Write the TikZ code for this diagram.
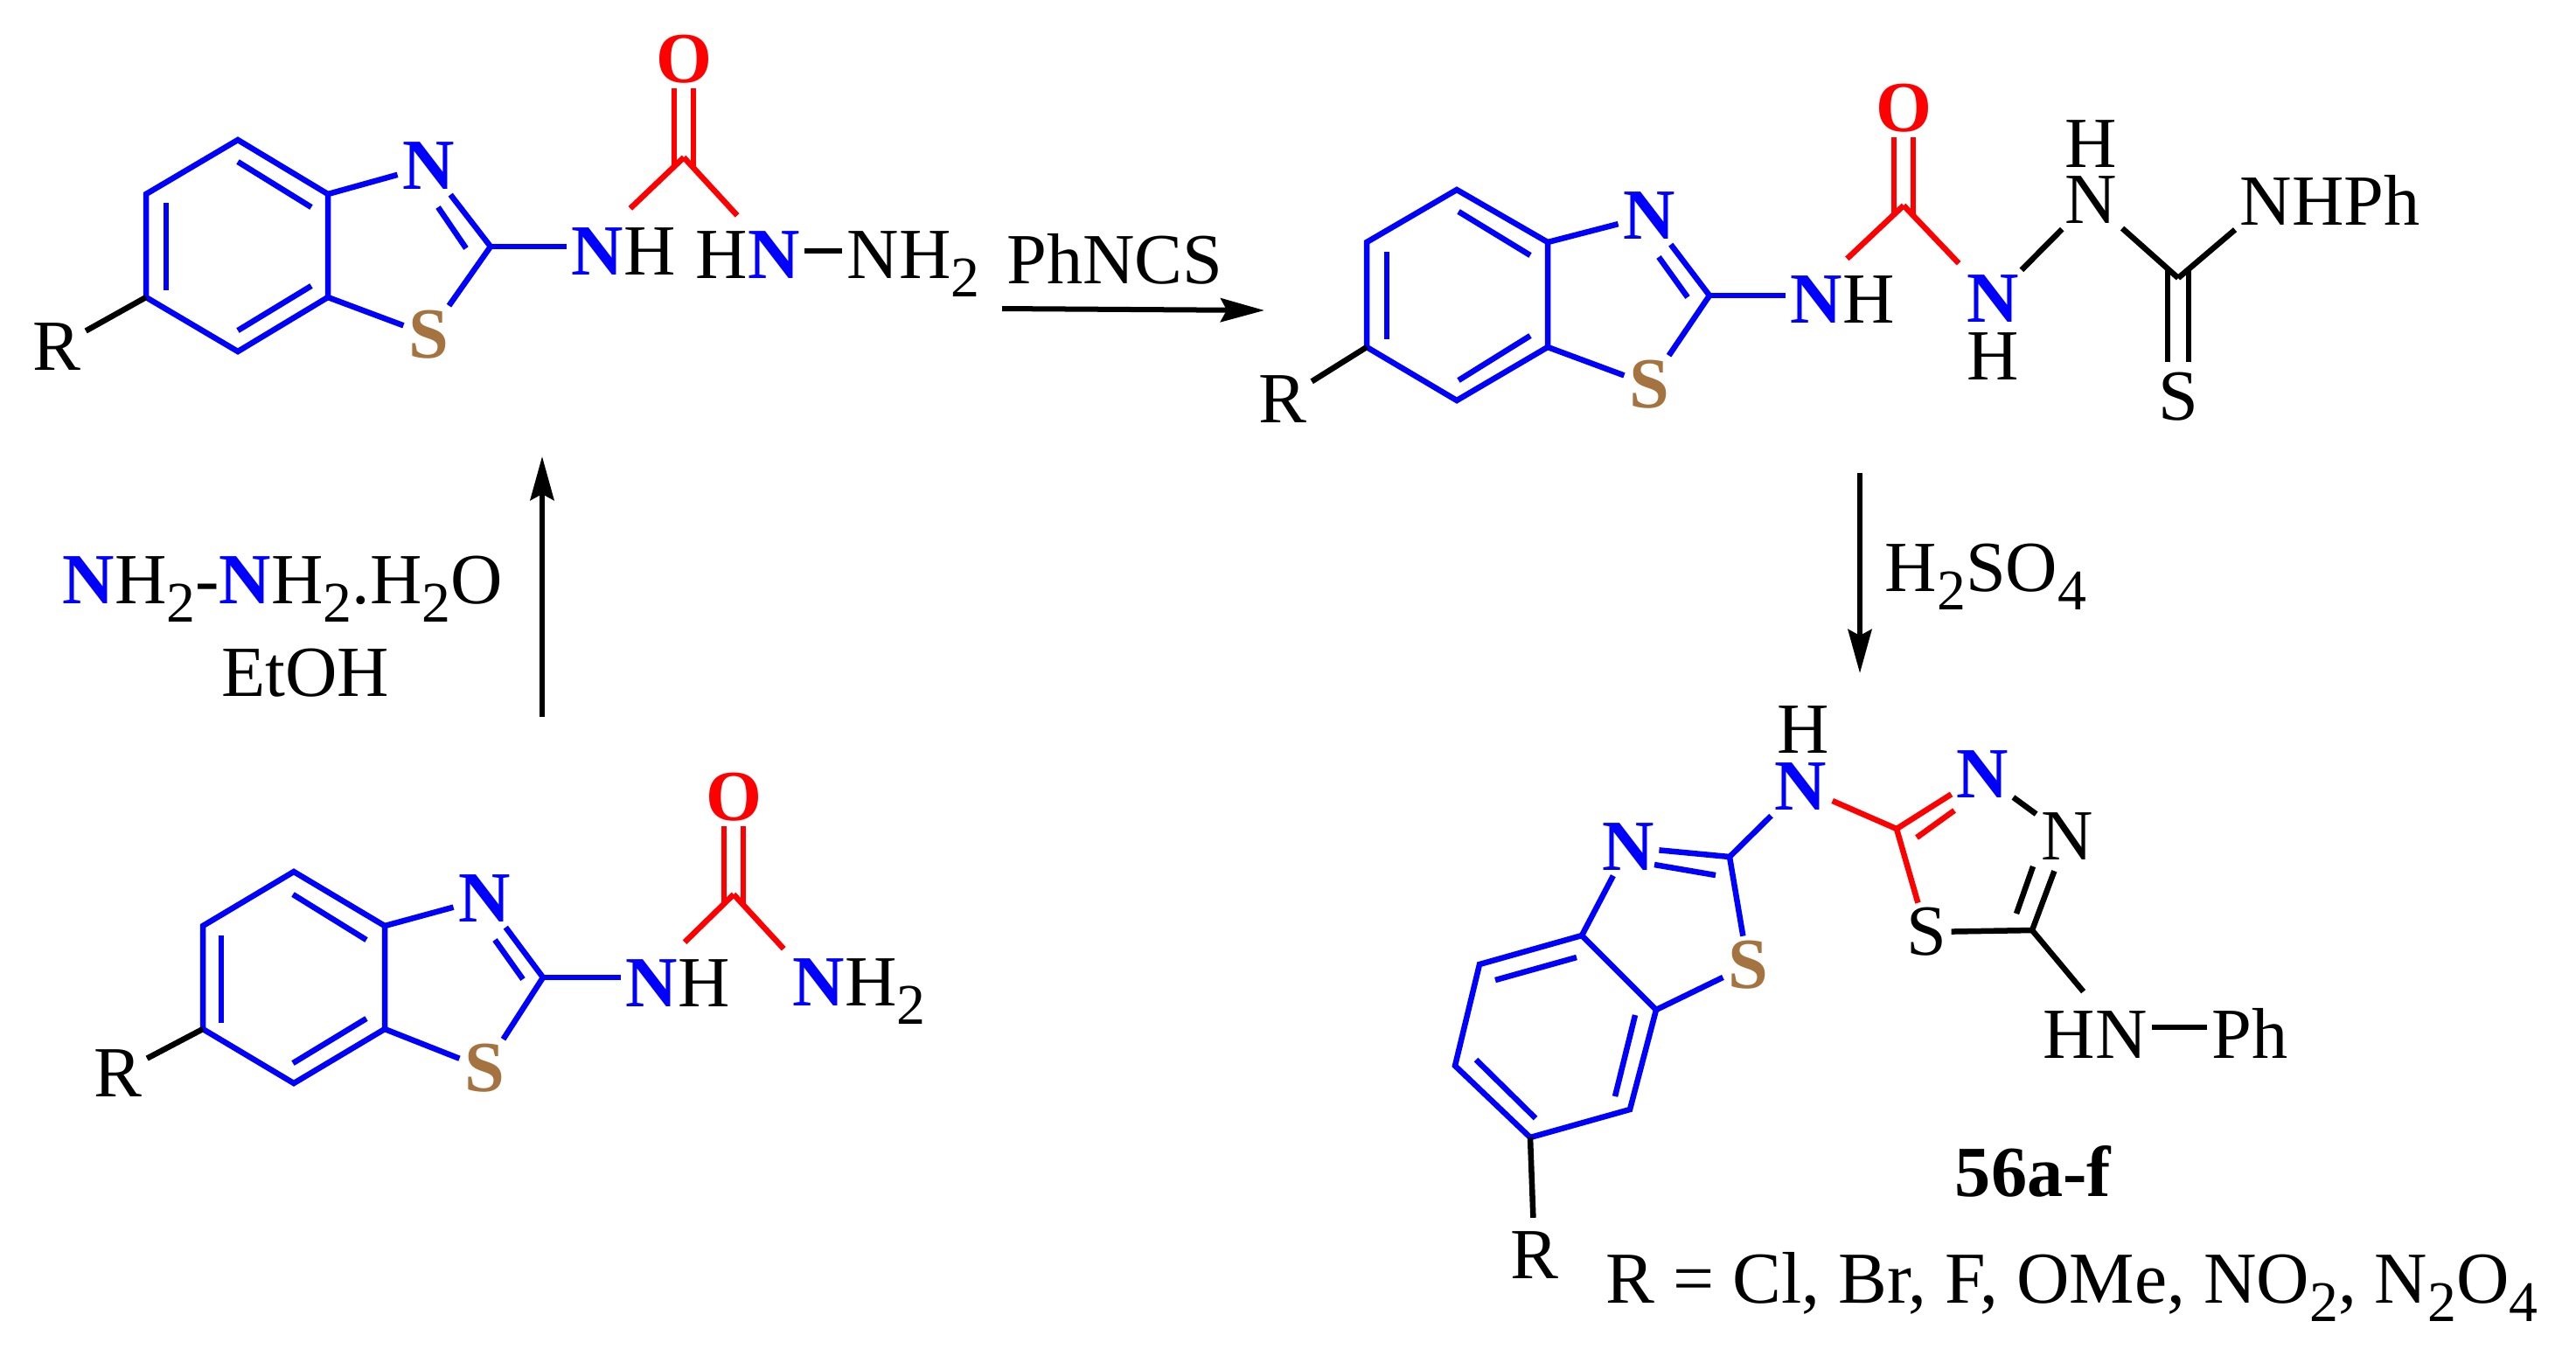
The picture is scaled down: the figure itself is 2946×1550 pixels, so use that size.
\documentclass[tikz,border=0pt]{standalone}
\usepackage{xcolor}
\usepackage{fontspec}
\setmainfont{Liberation Serif}
\usepackage{tikz}
\usetikzlibrary{arrows.meta, positioning}
\definecolor{sbrown}{HTML}{A5733F}
\newcommand{\atomsize}{\fontsize{23.4}{27}\selectfont}
\newcommand{\chemsub}[1]{\raisebox{-.26em}{\fontsize{18.7}{20}\selectfont #1}}
\newcommand{\blueN}{\textcolor{blue}{\textbf{N}}}
\tikzset{
	atom/.style={font=\atomsize, inner sep=.05cm},
	blueatom/.style={atom, text=blue, font=\atomsize\bfseries},
	redatom/.style={atom, text=red, font=\atomsize\bfseries},
	brownatom/.style={atom, text=sbrown, font=\atomsize\bfseries},
	tagged/.style={atom, anchor=base west},
	bond/.style={line width=.065cm, black},
	bluebond/.style={bond, blue},
	redbond/.style={bond, red},
	reaction/.style={->, line width=.06cm, black}
}

\begin{document}
\begin{tikzpicture}[x=.01cm,
				y=-.01cm,
				>={Stealth[length=.5cm,width=.27cm,inset=.07cm]}]
				\useasboundingbox (0,0) rectangle (2946,1550);
				\coordinate (a1) at (272,160);
				\coordinate (a2) at (167,222);
				\coordinate (a3) at (167,340);
				\coordinate (a4) at (272,402);
				\coordinate (a5) at (375,340);
				\coordinate (a6) at (375,222);
				\coordinate (ac2) at (561,282);
				\coordinate (ac) at (782,180);
				\coordinate (ai1) at (190,232);
				\coordinate (ai2) at (190,332);
				\coordinate (ai3) at (272,185);
				\coordinate (ai4) at (356,237);
				\coordinate (ai5) at (356,327);
				\coordinate (ai6) at (272,378);
				\coordinate (ai7) at (501,237);
				\coordinate (ai8) at (533,284);
				\node at (490,190) (an) [blueatom] {N};
				\node at (490,383) (as) [brownatom] {S};
				\node at (65,397) (ar) [atom] {R};
				\node at (713,288) (anh) [atom] {\blueN H};
				\node at (782,68) (ao) [redatom] {O};
				\node at (855,292) (ahn) [atom] {H\blueN};
				\node at (963,318) (anh2) [tagged] {NH\chemsub{2}};
				\draw[bluebond] (a1) -- (a2) -- (a3) -- (a4) -- (a5) -- (a6) -- cycle;
				\draw[bluebond] (ai1) -- (ai2);
				\draw[bluebond] (ai3) -- (ai4);
				\draw[bluebond] (ai5) -- (ai6);
				\draw[bluebond] (ai7) -- (ai8);
				\draw[bluebond] (a6) -- (an);
				\draw[bluebond] (a5) -- (as);
				\draw[bluebond] (ac2) -- (an);
				\draw[bluebond] (ac2) -- (as);
				\draw[bluebond] (ac2) -- (ac2 -| anh.west);
				\draw[bond] (a3) -- (ar);
				\draw[redbond, double, double distance=.155cm, shorten >=-3pt] (ao) -- (ac);
				\draw[redbond, shorten >=7pt] (ac) -- ([xshift=-.1cm]anh.north);
				\draw[redbond, shorten >=5pt] (ac) -- (ahn.north);
				\draw[bond] ([yshift=.05cm]ahn.east) -- ([yshift=.05cm]ahn.east -| anh2.west);

				\coordinate (b1) at (1666,217);
				\coordinate (b2) at (1563,277);
				\coordinate (b3) at (1563,397);
				\coordinate (b4) at (1666,458);
				\coordinate (b5) at (1770,397);
				\coordinate (b6) at (1770,277);
				\coordinate (bc2) at (1955,338);
				\coordinate (bc) at (2177,235);
				\coordinate (bcs) at (2491,318);
				\coordinate (bi1) at (1586,288);
				\coordinate (bi2) at (1586,388);
				\coordinate (bi3) at (1668,242);
				\coordinate (bi4) at (1750,292);
				\coordinate (bi5) at (1750,384);
				\coordinate (bi6) at (1668,435);
				\coordinate (bi7) at (1897,294);
				\coordinate (bi8) at (1930,340);
				\node at (1886,247) (bn) [blueatom] {N};
				\node at (1886,440) (bs) [brownatom] {S};
				\node at (1467,457) (br) [atom] {R};
				\node at (2107,343) (bnh) [atom] {\blueN H};
				\node at (2177,124) (bo) [redatom] {O};
				\node at (2279,342) (bn1) [blueatom, inner sep=.03cm] {N};
				\node at (2279,408) (bh1) [atom, inner sep=0pt] {H};
				\node at (2391,229) (bn2) [atom, inner sep=.03cm] {N};
				\node at (2391,165) (bh2) [atom, inner sep=0pt] {H};
				\node at (2556,257) (bnhph) [tagged] {NHPh};
				\node at (2491,454) (bs2) [atom] {S};
				\draw[bluebond] (b1) -- (b2) -- (b3) -- (b4) -- (b5) -- (b6) -- cycle;
				\draw[bluebond] (bi1) -- (bi2);
				\draw[bluebond] (bi3) -- (bi4);
				\draw[bluebond] (bi5) -- (bi6);
				\draw[bluebond] (bi7) -- (bi8);
				\draw[bluebond] (b6) -- (bn);
				\draw[bluebond] (b5) -- (bs);
				\draw[bluebond] (bc2) -- (bn);
				\draw[bluebond] (bc2) -- (bs);
				\draw[bluebond] (bc2) -- (bc2 -| bnh.west);
				\draw[bond] (b3) -- (br);
				\draw[redbond, double, double distance=.155cm, shorten >=-3pt] (bo) -- (bc);
				\draw[redbond, shorten >=6pt] (bc) -- ([xshift=-.1cm]bnh.north);
				\draw[redbond, shorten >=4pt] (bc) -- (bn1);
				\draw[bond, shorten <=1pt, shorten >=1pt] (bn1) -- (bn2);
				\draw[bond, double, double distance=.175cm, shorten <=-3pt, shorten >=2pt] (bcs) -- (bs2);
				\draw[bond, shorten <=1pt] (bn2) -- (bcs);
				\draw[bond] (bcs) -- (bnhph.south west);

				\coordinate (c1) at (336,997);
				\coordinate (c2) at (232,1059);
				\coordinate (c3) at (232,1177);
				\coordinate (c4) at (336,1239);
				\coordinate (c5) at (440,1177);
				\coordinate (c6) at (440,1059);
				\coordinate (cc2) at (621,1118);
				\coordinate (cc) at (839,1023);
				\coordinate (ci1) at (253,1070);
				\coordinate (ci2) at (253,1170);
				\coordinate (ci3) at (335,1023);
				\coordinate (ci4) at (419,1075);
				\coordinate (ci5) at (419,1165);
				\coordinate (ci6) at (335,1216);
				\coordinate (ci7) at (566,1075);
				\coordinate (ci8) at (598,1120);
				\node at (554,1028) (cn) [blueatom] {N};
				\node at (554,1222) (cs) [brownatom] {S};
				\node at (135,1228) (cr) [atom] {R};
				\node at (775,1125) (cnh) [atom] {\blueN H};
				\node at (839,912) (co) [redatom] {O};
				\node at (901,1150) (cnh2) [tagged] {\blueN H\chemsub{2}};
				\draw[bluebond] (c1) -- (c2) -- (c3) -- (c4) -- (c5) -- (c6) -- cycle;
				\draw[bluebond] (ci1) -- (ci2);
				\draw[bluebond] (ci3) -- (ci4);
				\draw[bluebond] (ci5) -- (ci6);
				\draw[bluebond] (ci7) -- (ci8);
				\draw[bluebond] (c6) -- (cn);
				\draw[bluebond] (c5) -- (cs);
				\draw[bluebond] (cc2) -- (cn);
				\draw[bluebond] (cc2) -- (cs);
				\draw[bluebond] (cc2) -- (cc2 -| cnh.west);
				\draw[bond] (c3) -- (cr);
				\draw[redbond, double, double distance=.155cm, shorten >=-3pt] (co) -- (cc);
				\draw[redbond, shorten >=6pt] (cc) -- ([xshift=-.07cm]cnh.north);
				\draw[redbond, shorten >=2pt] (cc) -- (cnh2.north west);

				\coordinate (d1) at (1692,1103);
				\coordinate (d2) at (1664,1219);
				\coordinate (d3) at (1750,1301);
				\coordinate (d4) at (1864,1269);
				\coordinate (d5) at (1894,1155);
				\coordinate (d6) at (1809,1070);
				\coordinate (dc2) at (1978,980);
				\coordinate (dc5) at (2169,948);
				\coordinate (dc6) at (2324,1064);
				\coordinate (di1) at (1710,1121);
				\coordinate (di2) at (1803,1095);
				\coordinate (di3) at (1688,1212);
				\coordinate (di4) at (1756,1279);
				\coordinate (di5) at (1870,1161);
				\coordinate (di6) at (1847,1254);
				\coordinate (di7) at (1892,989);
				\coordinate (di8) at (1962,1001);
				\coordinate (di9) at (2192,958);
				\coordinate (di10) at (2235,927);
				\coordinate (di11) at (2325,991);
				\coordinate (di12) at (2306,1045);
				\node at (1862,969) (dn) [blueatom] {N};
				\node at (1999,1104) (ds) [brownatom] {S};
				\node at (2059,900) (dnh) [blueatom, inner sep=.03cm] {N};
				\node at (2062,835) (dh) [atom, inner sep=0pt] {H};
				\node at (2267,886) (dn1) [blueatom] {N};
				\node at (2364,957) (dn2) [atom] {N};
				\node at (2203,1066) (ds2) [atom] {S};
				\node at (1755,1436) (dr) [atom] {R};
				\node at (2331,1210) (dhn) [tagged] {HN};
				\node at (2524,1210) (dph) [tagged] {Ph};
				\draw[bluebond] (d1) -- (d2) -- (d3) -- (d4) -- (d5) -- (d6) -- cycle;
				\draw[bluebond] (di1) -- (di2);
				\draw[bluebond] (di3) -- (di4);
				\draw[bluebond] (di5) -- (di6);
				\draw[bluebond] (di7) -- (di8);
				\draw[bluebond] (d6) -- (dn);
				\draw[bluebond] (d5) -- (ds);
				\draw[bluebond] (dc2) -- (dn);
				\draw[bluebond] (dc2) -- (ds);
				\draw[bluebond, shorten >=1pt] (dc2) -- (dnh);
				\draw[bond, shorten >=3pt] (d3) -- (dr);
				\draw[redbond, shorten <=1pt] (dnh) -- (dc5);
				\draw[redbond] (dc5) -- (dn1);
				\draw[redbond] (di9) -- (di10);
				\draw[redbond] (dc5) -- (ds2);
				\draw[bond] (dn1) -- (dn2);
				\draw[bond, shorten >=2pt] (dc6) -- (dn2);
				\draw[bond] (di11) -- (di12);
				\draw[bond] (ds2) -- (dc6);
				\draw[bond, shorten >=6pt] (dc6) -- (dhn.north);
				\draw[bond] ([yshift=.08cm]dhn.east) -- ([yshift=.08cm]dhn.east -| dph.west);

				\coordinate (lstart) at (620,820);
				\coordinate (lend) at (620,522);
				\coordinate (tstart) at (1146,353);
				\coordinate (tend) at (1446,355);
				\coordinate (rstart) at (2127,541);
				\coordinate (rend) at (2127,770);
				\draw[reaction] (lstart) -- (lend);
				\draw[reaction] (tstart) -- (tend);
				\draw[reaction] (rstart) -- (rend);
				\node at (66,690) (lreagent) [tagged] {\blueN H\chemsub{2}-\blueN H\chemsub{2}.H\chemsub{2}O};
				\node at (349,770) (lsolvent) [atom] {EtOH};
				\node at (1275,296) (treagent) [atom] {PhNCS};
				\node at (2150,676) (rreagent) [tagged] {H\chemsub{2}SO\chemsub{4}};
				\node at (2325,1340) (dlabel) [atom, font=\atomsize\bfseries] {56a-f};
				\node at (1831,1490) (rlist) [tagged, font=\fontsize{23.8}{27}\selectfont] {R = Cl, Br, F, OMe, NO\chemsub{2}, N\chemsub{2}O\chemsub{4}};
			\end{tikzpicture}
\end{document}
